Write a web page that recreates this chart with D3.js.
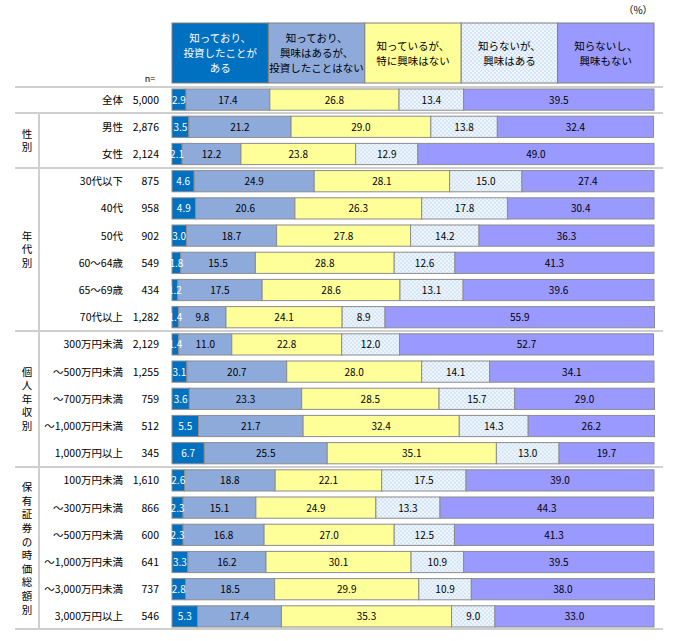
<!DOCTYPE html>
<html>
<head>
<meta charset="utf-8">
<script src="https://cdn.jsdelivr.net/npm/d3@7"></script>
<style>
body { margin: 0; background: #fff; }
svg text { font-family: "Noto Sans CJK JP", "Noto Sans", sans-serif; }
</style>
</head>
<body>
<div id="chart"></div>
<script>
// legend categories
var series = ["知っており、\n投資したことが\nある", "知っており、\n興味はあるが、\n投資したことはない", "知っているが、\n特に興味はない", "知らないが、\n興味はある", "知らないし、\n興味もない"];
var colors = ["#0070c0", "#8eaadb", "#ffff99", "url(#dots)", "#9999ff"];

// rows
var labels = ["全体", "男性", "女性", "30代以下", "40代", "50代", "60～64歳", "65～69歳", "70代以上",
    "300万円未満", "～500万円未満", "～700万円未満", "～1,000万円未満", "1,000万円以上",
    "100万円未満", "～300万円未満", "～500万円未満", "～1,000万円未満", "～3,000万円未満", "3,000万円以上"];
var nValues = ["5,000", "2,876", "2,124", "875", "958", "902", "549", "434", "1,282",
    "2,129", "1,255", "759", "512", "345", "1,610", "866", "600", "641", "737", "546"];
var values = [
    [2.9, 17.4, 26.8, 13.4, 39.5],
    [3.5, 21.2, 29.0, 13.8, 32.4],
    [2.1, 12.2, 23.8, 12.9, 49.0],
    [4.6, 24.9, 28.1, 15.0, 27.4],
    [4.9, 20.6, 26.3, 17.8, 30.4],
    [3.0, 18.7, 27.8, 14.2, 36.3],
    [1.8, 15.5, 28.8, 12.6, 41.3],
    [1.2, 17.5, 28.6, 13.1, 39.6],
    [1.4, 9.8, 24.1, 8.9, 55.9],
    [1.4, 11.0, 22.8, 12.0, 52.7],
    [3.1, 20.7, 28.0, 14.1, 34.1],
    [3.6, 23.3, 28.5, 15.7, 29.0],
    [5.5, 21.7, 32.4, 14.3, 26.2],
    [6.7, 25.5, 35.1, 13.0, 19.7],
    [2.6, 18.8, 22.1, 17.5, 39.0],
    [2.3, 15.1, 24.9, 13.3, 44.3],
    [2.3, 16.8, 27.0, 12.5, 41.3],
    [3.3, 16.2, 30.1, 10.9, 39.5],
    [2.8, 18.5, 29.9, 10.9, 38.0],
    [5.3, 17.4, 35.3, 9.0, 33.0]
];
// groups: name, first row, last row
var groups = [
    { name: "性別", from: 1, to: 2 },
    { name: "年代別", from: 3, to: 8 },
    { name: "個人年収別", from: 9, to: 13 },
    { name: "保有証券の時価総額別", from: 14, to: 19 }
];

var w = 673, h = 641;
var svg = d3.select("#chart").append("svg").attr("width", w).attr("height", h);

var defs = svg.append("defs");
var pat = defs.append("pattern").attr("id", "dots")
    .attr("patternUnits", "userSpaceOnUse").attr("width", 4).attr("height", 4);
pat.append("rect").attr("width", 4).attr("height", 4).attr("fill", "#d3e5f6");
pat.append("circle").attr("cx", 1).attr("cy", 1).attr("r", 0.9).attr("fill", "#ffffff");
pat.append("circle").attr("cx", 3).attr("cy", 3).attr("r", 0.9).attr("fill", "#ffffff");

var x = d3.scaleLinear().domain([0, 100]).range([172, 654]);
var y = d3.scaleBand().domain(d3.range(labels.length)).range([86, 630]).paddingInner(0.22).paddingOuter(0.11);

// header legend boxes
var hx = d3.scaleBand().domain(d3.range(series.length)).range([172, 654]);
var head = svg.append("g");
head.selectAll("rect").data(series).enter().append("rect")
    .attr("x", function(d, i) { return hx(i); })
    .attr("y", 23)
    .attr("width", hx.bandwidth())
    .attr("height", 60)
    .attr("fill", function(d, i) { return colors[i]; })
    .attr("stroke", "#808080")
    .attr("stroke-width", 1);
head.selectAll("text").data(series).enter().append("text")
    .attr("text-anchor", "middle")
    .attr("fill", function(d, i) { return i == 0 ? "#fff" : "#000"; })
    .style("font-size", "10.5px")
    .each(function(d, i) {
        var lines = d.split("\n");
        var t = d3.select(this);
        var start = 53 - (lines.length - 1) * 15 / 2 + 4;
        lines.forEach(function(l, j) {
            t.append("tspan").attr("x", hx(i) + hx.bandwidth() / 2).attr("y", start + j * 15).text(l);
        });
    });

svg.append("text").attr("x", 638).attr("y", 14).attr("text-anchor", "middle")
    .style("font-size", "10px").text("（%）");
svg.append("text").attr("x", 150).attr("y", 82).attr("text-anchor", "middle")
    .style("font-size", "9px").text("n=");

// separators
var sepY = [87, 113, 168, 331, 467, 629];
svg.selectAll(".sep").data(sepY).enter().append("line")
    .attr("x1", 15).attr("x2", 663)
    .attr("y1", function(d) { return d; }).attr("y2", function(d) { return d; })
    .attr("stroke", "#cfcfcf").attr("stroke-width", 2);
svg.append("line").attr("x1", 39).attr("x2", 39).attr("y1", 113).attr("y2", 629)
    .attr("stroke", "#cfcfcf").attr("stroke-width", 2);

// row labels
var rows = svg.selectAll(".row").data(values).enter().append("g")
    .attr("class", "row")
    .attr("transform", function(d, i) { return "translate(0," + y(i) + ")"; });

rows.append("text").attr("x", 123).attr("y", y.bandwidth() / 2 + 4)
    .attr("text-anchor", "end").style("font-size", "10.5px")
    .text(function(d, i) { return labels[i]; });
rows.append("text").attr("x", 159).attr("y", y.bandwidth() / 2 + 4)
    .attr("text-anchor", "end").style("font-size", "10.5px")
    .text(function(d, i) { return nValues[i]; });

// stacked segments
function stack(d) {
    var acc = 0;
    return d.map(function(v, k) { var s = { k: k, v: v, x0: acc }; acc += v; s.x1 = acc; return s; });
}

rows.selectAll(".seg").data(stack).enter().append("rect")
    .attr("class", "seg")
    .attr("x", function(d) { return x(d.x0); })
    .attr("width", function(d) { return x(d.x1) - x(d.x0); })
    .attr("height", y.bandwidth())
    .attr("fill", function(d) { return colors[d.k]; })
    .attr("stroke", "#8c8c8c")
    .attr("stroke-width", 1);

// labels drawn after all rects so small ones can overflow
rows.selectAll(".lbl").data(stack).enter().append("text")
    .attr("class", "lbl")
    .attr("x", function(d) { return (x(d.x0) + x(d.x1)) / 2; })
    .attr("y", y.bandwidth() / 2 + 4)
    .attr("text-anchor", "middle")
    .style("font-size", "10px")
    .attr("fill", function(d) { return d.k == 0 ? "#fff" : "#000"; })
    .text(function(d) { return d3.format(".1f")(d.v); });

// group labels (vertical)
groups.forEach(function(g) {
    var cy = (y(g.from) + y(g.to) + y.bandwidth()) / 2;
    var chars = g.name.split("");
    var lh = 13.6;
    var t = svg.append("text").attr("text-anchor", "middle").style("font-size", "10.5px");
    chars.forEach(function(c, j) {
        t.append("tspan").attr("x", 27)
            .attr("y", cy - (chars.length - 1) * lh / 2 + j * lh + 4)
            .text(c);
    });
});
</script>
</body>
</html>
